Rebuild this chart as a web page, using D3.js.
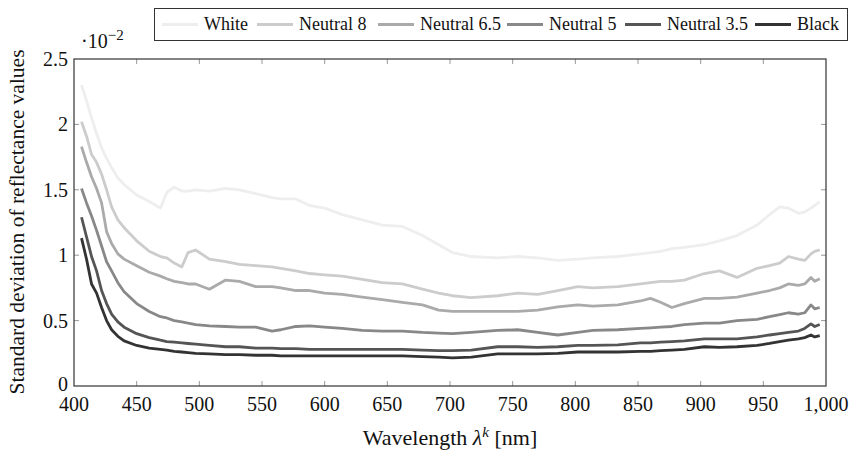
<!DOCTYPE html>
<html><head><meta charset="utf-8">
<script src="https://cdn.jsdelivr.net/npm/d3@7"></script>
<style>
body{margin:0;background:#fff;}
</style></head>
<body><svg id="c" width="852" height="451" font-family="'Liberation Serif', 'DejaVu Serif', serif"></svg>
<script>
const wavelengths = [406,410,414,418,422,426,430,435,440,450,460,469,474,480,486,491,497,508,521,532,545,558,565,577,588,600,614,630,646,662,678,691,702,717,738,754,770,786,802,814,834,852,860,868,877,887,903,915,929,945,955,963,970,978,983,988,991,995];
const white = [2.30,2.18,2.05,1.93,1.82,1.74,1.67,1.59,1.54,1.46,1.41,1.36,1.48,1.52,1.49,1.49,1.50,1.49,1.51,1.50,1.47,1.44,1.43,1.43,1.38,1.36,1.31,1.27,1.23,1.22,1.15,1.08,1.02,0.99,0.98,0.99,0.98,0.96,0.97,0.98,0.99,1.01,1.02,1.03,1.05,1.06,1.08,1.11,1.15,1.23,1.31,1.37,1.36,1.32,1.33,1.36,1.38,1.41];
const neutral8 = [2.02,1.91,1.77,1.71,1.62,1.50,1.37,1.27,1.21,1.11,1.03,0.99,0.98,0.94,0.91,1.02,1.04,0.97,0.95,0.93,0.92,0.91,0.90,0.88,0.86,0.85,0.84,0.815,0.79,0.78,0.74,0.71,0.69,0.675,0.69,0.71,0.70,0.73,0.76,0.75,0.76,0.78,0.79,0.80,0.80,0.81,0.86,0.88,0.83,0.90,0.92,0.94,0.99,0.97,0.96,1.01,1.03,1.04];
const neutral65 = [1.83,1.71,1.60,1.51,1.40,1.18,1.09,1.01,0.97,0.92,0.87,0.84,0.82,0.80,0.79,0.78,0.78,0.74,0.81,0.80,0.76,0.76,0.75,0.73,0.73,0.71,0.70,0.68,0.66,0.64,0.62,0.58,0.57,0.57,0.57,0.57,0.58,0.605,0.62,0.61,0.62,0.65,0.67,0.64,0.60,0.63,0.67,0.67,0.68,0.71,0.73,0.75,0.78,0.77,0.78,0.83,0.80,0.82];
const neutral5 = [1.51,1.40,1.30,1.19,1.07,0.95,0.88,0.79,0.72,0.63,0.57,0.53,0.52,0.50,0.49,0.48,0.47,0.46,0.455,0.45,0.45,0.42,0.43,0.455,0.46,0.45,0.44,0.425,0.42,0.42,0.41,0.405,0.40,0.41,0.425,0.43,0.41,0.39,0.41,0.425,0.43,0.44,0.445,0.45,0.455,0.47,0.48,0.48,0.50,0.51,0.53,0.545,0.56,0.55,0.56,0.62,0.59,0.60];
const neutral35 = [1.29,1.14,0.99,0.88,0.73,0.63,0.55,0.49,0.45,0.40,0.37,0.35,0.34,0.335,0.33,0.325,0.32,0.31,0.30,0.30,0.29,0.29,0.285,0.285,0.28,0.28,0.28,0.28,0.28,0.28,0.275,0.27,0.27,0.275,0.30,0.30,0.295,0.30,0.31,0.31,0.315,0.33,0.33,0.335,0.34,0.345,0.36,0.36,0.36,0.375,0.39,0.40,0.41,0.42,0.44,0.475,0.455,0.47];
const black = [1.13,0.97,0.78,0.71,0.60,0.50,0.43,0.38,0.345,0.31,0.29,0.28,0.275,0.265,0.26,0.255,0.25,0.245,0.24,0.24,0.235,0.235,0.23,0.23,0.23,0.23,0.23,0.23,0.23,0.23,0.225,0.22,0.215,0.22,0.245,0.245,0.245,0.25,0.26,0.26,0.26,0.265,0.265,0.27,0.275,0.28,0.30,0.295,0.30,0.31,0.325,0.34,0.35,0.36,0.37,0.39,0.375,0.385];
const seriesNames = ["White","Neutral 8","Neutral 6.5","Neutral 5","Neutral 3.5","Black"];
const seriesValues = [white, neutral8, neutral65, neutral5, neutral35, black];
const seriesColors = ["#eeeeee","#cccccc","#aaaaaa","#888888","#555555","#333333"];
const xTicks = [400,450,500,550,600,650,700,750,800,850,900,950,1000];
const yTicks = [0,0.5,1,1.5,2,2.5];

const svg = d3.select("#c");
const L=74, R=826, T=59, B=386;
const x = d3.scaleLinear().domain([400,1000]).range([L,R]);
const y = d3.scaleLinear().domain([0,2.5]).range([B,T]);

// ticks (inward, all four sides)
const tk = svg.append("g").attr("stroke","#999").attr("stroke-width",1);
xTicks.forEach(v=>{
  if(v===400||v===1000) return;
  tk.append("line").attr("x1",x(v)).attr("x2",x(v)).attr("y1",B).attr("y2",B-5);
  tk.append("line").attr("x1",x(v)).attr("x2",x(v)).attr("y1",T).attr("y2",T+5);
});
yTicks.forEach(v=>{
  if(v===0||v===2.5) return;
  tk.append("line").attr("x1",L).attr("x2",L+5).attr("y1",y(v)).attr("y2",y(v));
  tk.append("line").attr("x1",R).attr("x2",R-5).attr("y1",y(v)).attr("y2",y(v));
});

// lines
const line = d3.line().x((d,i)=>x(wavelengths[i])).y(d=>y(d));
seriesValues.forEach((vals,k)=>{
  svg.append("path").datum(vals).attr("d",line).attr("fill","none")
    .attr("stroke",seriesColors[k]).attr("stroke-width",2.8).attr("stroke-linejoin","round");
});

// frame
svg.append("rect").attr("x",L).attr("y",T).attr("width",R-L).attr("height",B-T)
  .attr("fill","none").attr("stroke","#333").attr("stroke-width",1.2);

// tick labels
const fmt = v => v===1000 ? "1,000" : String(v);
xTicks.forEach(v=>{
  svg.append("text").attr("x",x(v)).attr("y",B+25).attr("text-anchor","middle")
    .attr("font-size",20).attr("fill","#111").text(fmt(v));
});
yTicks.forEach(v=>{
  svg.append("text").attr("x",L-6).attr("y",y(v)+(v===0?5:7)).attr("text-anchor","end")
    .attr("font-size",20).attr("fill","#111").text(String(v));
});

// scale note
const sn = svg.append("text").attr("x",81).attr("y",48).attr("font-size",20).attr("fill","#111");
sn.append("tspan").text("·10");
sn.append("tspan").attr("dy",-8).attr("font-size",15).text("−2");

// axis labels
const xl = svg.append("text").attr("x",450).attr("y",445).attr("text-anchor","middle").attr("font-size",22).attr("fill","#111");
xl.append("tspan").text("Wavelength ");
xl.append("tspan").attr("font-style","italic").text("λ");
xl.append("tspan").attr("font-style","italic").attr("dy",-8).attr("font-size",15).text("k");
xl.append("tspan").attr("dy",8).text(" [nm]");
svg.append("text").attr("transform","translate(24,222) rotate(-90)").attr("text-anchor","middle")
  .attr("font-size",21.5).attr("fill","#111").text("Standard deviation of reflectance values");

// legend
svg.append("rect").attr("x",154.5).attr("y",8.5).attr("width",693).attr("height",32)
  .attr("fill","#fff").attr("stroke","#333").attr("stroke-width",1);
const legX = [162,257,378,507,625,755];
seriesNames.forEach((n,k)=>{
  svg.append("line").attr("x1",legX[k]).attr("x2",legX[k]+36).attr("y1",24.5).attr("y2",24.5)
    .attr("stroke",seriesColors[k]).attr("stroke-width",2.8);
  svg.append("text").attr("x",legX[k]+42).attr("y",30).attr("font-size",18).attr("fill","#111").text(n);
});
</script></body></html>
